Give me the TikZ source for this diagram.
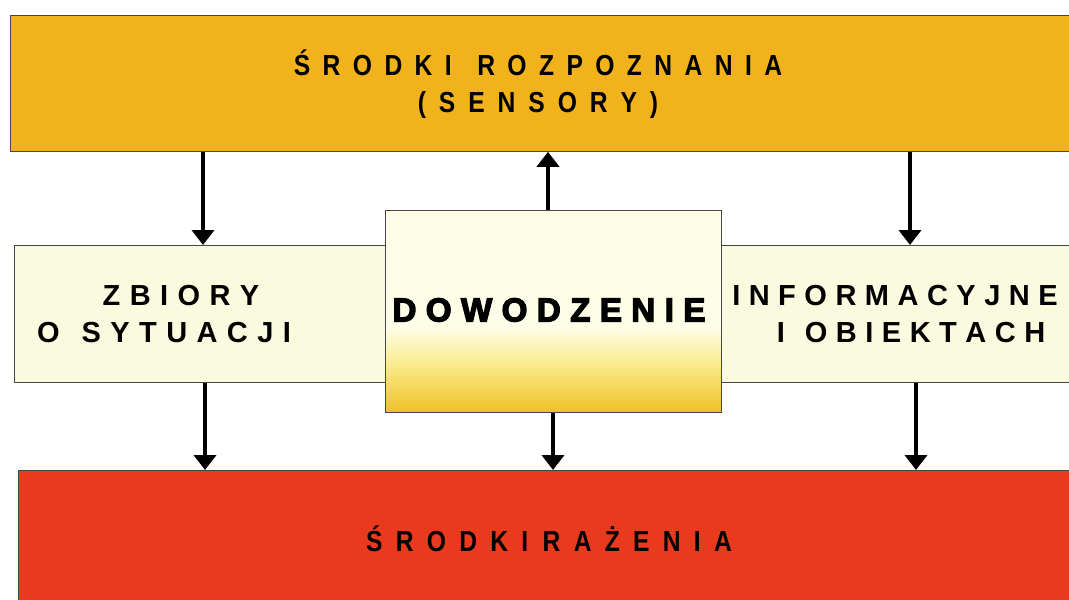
\documentclass[tikz,border=0pt]{standalone}
\usepackage{fontspec}
\setmainfont{Liberation Sans}
\newfontfamily\boldface{Liberation Sans Bold}
\newfontfamily\blackface[FakeBold=4]{Liberation Sans Bold}
\usetikzlibrary{arrows.meta}
\definecolor{topc}{RGB}{242,178,28}
\definecolor{botc}{RGB}{233,58,30}
\definecolor{midc}{RGB}{250,250,222}
\definecolor{ctop}{RGB}{253,253,232}
\definecolor{cmid}{RGB}{249,236,140}
\definecolor{cbot}{RGB}{240,192,40}
\definecolor{edge}{RGB}{70,70,70}
\pgfdeclareverticalshading{censhade}{100bp}{color(0bp)=(cbot); color(25bp)=(cbot); color(37bp)=(cmid); color(46bp)=(ctop); color(75bp)=(ctop); color(100bp)=(ctop)}
% letter spacing: \ls{kern}{WORD}
\def\lsfirst#1{#1\lsrest}
\def\lsrest#1{\ifx#1\relax\else\kern\lsk #1\expandafter\lsrest\fi}
\newcommand\ls[2]{\def\lsk{#1}\lsfirst#2\relax}
\newcommand\cond[1]{\scalebox{0.85}[1]{#1}}
\tikzset{
  box/.style={draw=edge, line width=0.8pt, rectangle, inner sep=0pt, anchor=north west},
  lbl/.style={align=center, inner sep=0pt},
  arr/.style={line width=4.5pt, -{Triangle[width=22pt,length=15pt]}},
}
\begin{document}
\begin{tikzpicture}[x=1pt,y=-1pt]
\useasboundingbox (0,0) rectangle (1069,600);
\clip (0,0) rectangle (1069,600);
\fill[white] (0,0) rectangle (1069,600);
% boxes
\node[box, fill=topc, minimum width=1062pt, minimum height=136pt] (top) at (10,15) {};
\node[box, fill=botc, minimum width=1064pt, minimum height=140pt] (bot) at (18,470) {};
\node[box, fill=midc, minimum width=380pt, minimum height=137pt] (left) at (14,245) {};
\node[box, fill=midc, minimum width=360pt, minimum height=137pt] (right) at (720,245) {};
\node[box, minimum width=336pt, minimum height=202pt, shading=censhade] (cen) at (385,210) {};
% labels
\node[lbl, font=\boldface\fontsize{29}{37}\selectfont] (ttop) at (538,84)
  {\cond{\ls{14.6pt}{ŚRODKI}\hspace{30pt}\ls{14.6pt}{ROZPOZNANIA}}\\\cond{\ls{15.2pt}{(SENSORY)}}};
\node[lbl, font=\boldface\fontsize{29}{37}\selectfont] (tbot) at (549,539)
  {\cond{\ls{15.6pt}{ŚRODKI}\hspace{17pt}\ls{15.6pt}{RAŻENIA}}};
\node[lbl, font=\boldface\fontsize{29}{37}\selectfont] (tleft) at (175,314)
  {\kern12pt\ls{9.4pt}{ZBIORY}\\\ls{9.4pt}{O}\hspace{22pt}\ls{9.4pt}{SYTUACJI}\kern22pt};
\node[lbl, font=\boldface\fontsize{29}{37}\selectfont] (tright) at (905,314)
  {\ls{8.5pt}{INFORMACYJNE}\kern20pt\\\kern12pt\ls{8.5pt}{I}\hspace{20pt}\ls{8.5pt}{OBIEKTACH}};
\node[lbl, font=\blackface\fontsize{33}{38}\selectfont] (tcen) at (549,310)
  {\ls{9.5pt}{DOWODZENIE}};
% arrows
\coordinate (x1) at (203,0);
\coordinate (x2) at (548,0);
\coordinate (x3) at (910,0);
\coordinate (x4) at (205,0);
\coordinate (x5) at (553,0);
\coordinate (x6) at (916,0);
\draw[arr] (top.south -| x1) -- (left.north -| x1);
\draw[arr] (cen.north -| x2) -- (top.south -| x2);
\draw[arr] (top.south -| x3) -- (right.north -| x3);
\draw[arr] (left.south -| x4) -- (bot.north -| x4);
\draw[arr] (cen.south -| x5) -- (bot.north -| x5);
\draw[arr] (right.south -| x6) -- (bot.north -| x6);
\end{tikzpicture}
\end{document}
